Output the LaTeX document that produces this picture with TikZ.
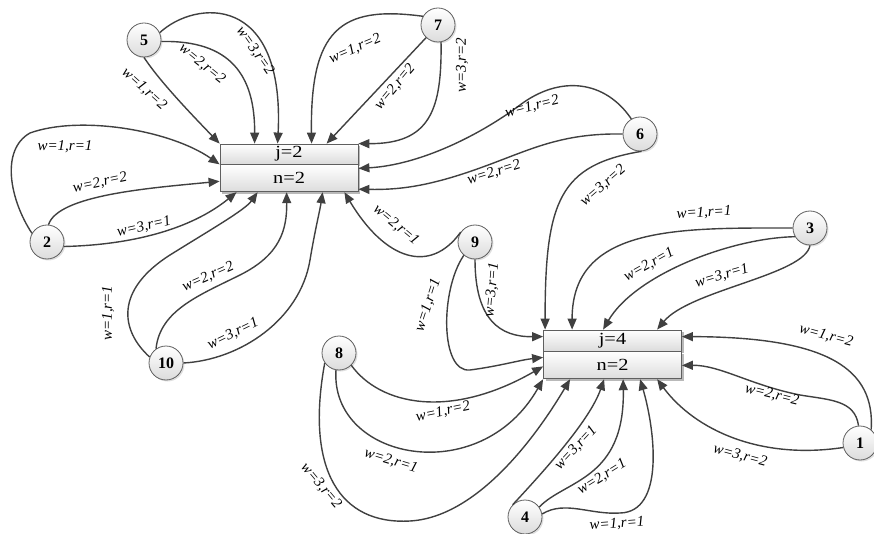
\documentclass[tikz,border=0pt]{standalone}
\usepackage{fontspec}
\setmainfont{Liberation Serif}
\newfontfamily\cellfont[FakeStretch=1.2]{Liberation Serif}
\usetikzlibrary{positioning,arrows.meta,shadows}
\definecolor{EdgeGray}{RGB}{64,64,64}
\definecolor{RimGray}{RGB}{95,95,95}
\definecolor{FillGray}{RGB}{220,220,220}
\tikzset{
	v/.style={circle,draw=RimGray,line width=0.8pt,top color=white,bottom color=FillGray,
		minimum size=34pt,inner sep=0pt,font=\fontsize{16}{19}\selectfont\bfseries,
		drop shadow={shadow xshift=1.5pt,shadow yshift=-1.5pt,opacity=0.25}},
	cell/.style={rectangle,draw=RimGray,line width=0.8pt,top color=white,bottom color=FillGray,
		minimum width=138pt,inner sep=0pt,font=\cellfont\fontsize{17}{20}\selectfont,
		drop shadow={shadow xshift=2pt,shadow yshift=-2pt,opacity=0.55}},
	edge/.style={draw=EdgeGray,line width=1.4pt,-{Triangle[length=11pt,width=9pt]}},
	wr/.style={font=\fontsize{15}{18}\selectfont\itshape,inner sep=0pt},
}
\begin{document}
\begin{tikzpicture}[x=1pt,y=-1pt]
	\useasboundingbox (0,0) rectangle (874,534);
	\node[cell,minimum height=20pt] (j2) at (289,154) {j=2};
	\node[cell,minimum height=27pt,below=0pt of j2] (nj2) {n=2};
	\node[cell,minimum height=21pt] (j4) at (612.5,340.5) {j=4};
	\node[cell,minimum height=27pt,below=0pt of j4] (nj4) {n=2};
	\node[v] (v1) at (860,443) {1};
	\node[v] (v2) at (47,242) {2};
	\node[v] (v3) at (810,228) {3};
	\node[v] (v4) at (525,517) {4};
	\node[v] (v5) at (144,40) {5};
	\node[v] (v6) at (640,134) {6};
	\node[v] (v7) at (438,25) {7};
	\node[v] (v8) at (339,353) {8};
	\node[v] (v9) at (475,242) {9};
	\node[v] (v10) at (166,363) {10};
	% into j=2
	\draw[edge] (v5.south) .. controls (160,82) and (195,118) .. (j2.north west);
	\draw[edge] (v5.-5) .. controls (230,40) and (255,75) .. ([xshift=35pt]j2.north west);
	\draw[edge] (v5.25) .. controls (195,0) and (285,-8) .. ([xshift=58pt]j2.north west);
	\draw[edge] (v7.150) .. controls (340,5) and (310,30) .. ([xshift=92pt]j2.north west);
	\draw[edge] (v7) -- ([xshift=107pt]j2.north west);
	\draw[edge] (v7.-80) .. controls (442,110) and (430,144) .. (j2.north east);
	\draw[edge] (v6.120) .. controls (605,80) and (560,75) .. (520,105) .. controls (480,135) and (420,165) .. ([yshift=-4pt]nj2.north east);
	\draw[edge] (v6.west) .. controls (560,133) and (530,150) .. (480,168) .. controls (430,186) and (400,190) .. ([yshift=3pt]nj2.south east);
	\draw[edge] (v9.145) .. controls (430,275) and (385,260) .. ([xshift=-14pt]nj2.south east);
	\draw[edge] (v2.150) .. controls (10,200) and (0,150) .. (30,133) .. controls (80,115) and (170,130) .. (j2.south west);
	\draw[edge] (v2.85) .. controls (58,195) and (150,188) .. ([yshift=-3pt]nj2.west);
	\draw[edge] (v2.-15) .. controls (130,245) and (190,230) .. ([xshift=17pt]nj2.south west);
	\draw[edge] (v10.160) .. controls (120,330) and (115,290) .. (170,255) .. controls (210,230) and (245,210) .. ([xshift=38pt]nj2.south west);
	\draw[edge] (v10.125) .. controls (160,310) and (200,295) .. (240,275) .. controls (280,255) and (287,230) .. ([xshift=67pt]nj2.south west);
	\draw[edge] (v10.east) .. controls (240,360) and (300,320) .. (310,260) .. controls (315,230) and (320,210) .. ([xshift=103pt]nj2.south west);
	% into j=4
	\draw[edge] (v6.-85) .. controls (560,165) and (545,200) .. ([xshift=2pt]j4.north west);
	\draw[edge] (v3.west) .. controls (680,228) and (572,225) .. ([xshift=29pt]j4.north west);
	\draw[edge] (v3.210) .. controls (730,238) and (635,275) .. ([xshift=60pt]j4.north west);
	\draw[edge] (v3.south) .. controls (805,275) and (690,290) .. ([xshift=114pt]j4.north west);
	\draw[edge] (v9.south) .. controls (475,320) and (500,337) .. ([yshift=-7pt]j4.north west);
	\draw[edge] (v9.230) .. controls (440,290) and (440,373) .. (470,370) .. controls (500,366) and (520,360) .. ([yshift=-6pt]nj4.north west);
	\draw[edge] (v8.-45) .. controls (380,405) and (450,420) .. ([yshift=-15pt]nj4.north west);
	\draw[edge] (v8.-100) .. controls (330,460) and (480,490) .. (nj4.south west);
	\draw[edge] (v8.215) .. controls (305,470) and (340,525) .. (410,521) .. controls (480,517) and (540,430) .. ([xshift=27pt]nj4.south west);
	\draw[edge] (v4.135) .. controls (545,470) and (590,420) .. ([xshift=61pt]nj4.south west);
	\draw[edge] (v4.35) .. controls (565,480) and (625,480) .. ([xshift=80pt]nj4.south west);
	\draw[edge] (v4.10) .. controls (565,500) and (590,515) .. (620,513) .. controls (665,512) and (655,430) .. ([xshift=97pt]nj4.south west);
	\draw[edge] (v1.195) .. controls (760,460) and (695,430) .. ([xshift=114pt]nj4.south west);
	\draw[edge] (v1.95) .. controls (855,400) and (830,400) .. (800,395) .. controls (750,385) and (720,365) .. ([yshift=-14pt]nj4.north east);
	\draw[edge] (v1.50) .. controls (875,370) and (830,337) .. ([yshift=-7pt]j4.north east);
	% weights
	\node[wr,rotate=-42] (lab5a) at (144,89) {w=1,r=2};
	\node[wr,rotate=-39] (lab5b) at (202,64) {w=2,r=2};
	\node[wr,rotate=-55] (lab5c) at (255,51) {w=3,r=2};
	\node[wr,rotate=23] (lab7a) at (355,49) {w=1,r=2};
	\node[wr,rotate=50] (lab7b) at (395,87) {w=2,r=2};
	\node[wr,rotate=90] (lab7c) at (462,65) {w=3,r=2};
	\node[wr,rotate=14] (lab6a) at (532,107) {w=1,r=2};
	\node[wr,rotate=17] (lab6b) at (494,173) {w=2,r=2};
	\node[wr,rotate=41] (lab6c) at (603,186) {w=3,r=2};
	\node[wr,rotate=-40] (lab9a) at (396,225) {w=2,r=1};
	\node[wr,rotate=72] (lab9b) at (428,305) {w=1,r=1};
	\node[wr,rotate=85] (lab9c) at (492,290) {w=3,r=1};
	\node[wr,rotate=3] (lab3a) at (704,213) {w=1,r=1};
	\node[wr,rotate=29] (lab3b) at (649,265) {w=2,r=1};
	\node[wr,rotate=16] (lab3c) at (722,276) {w=3,r=1};
	\node[wr,rotate=-15] (lab1a) at (826,336) {w=1,r=2};
	\node[wr,rotate=-14] (lab1b) at (772,395) {w=2,r=2};
	\node[wr,rotate=-15] (lab1c) at (740,456) {w=3,r=2};
	\node[wr,rotate=12] (lab8a) at (443,412) {w=1,r=2};
	\node[wr,rotate=-17] (lab8b) at (391,461) {w=2,r=1};
	\node[wr,rotate=-50] (lab8c) at (321,486) {w=3,r=2};
	\node[wr,rotate=47] (lab4a) at (576,448) {w=3,r=1};
	\node[wr,rotate=32] (lab4b) at (602,477) {w=2,r=1};
	\node[wr,rotate=4] (lab4c) at (617,524) {w=1,r=1};
	\node[wr] (lab2a) at (65,147) {w=1,r=1};
	\node[wr,rotate=12] (lab2b) at (100,183) {w=2,r=2};
	\node[wr,rotate=13] (lab2c) at (144,227) {w=3,r=1};
	\node[wr,rotate=90] (lab10a) at (108,313) {w=1,r=1};
	\node[wr,rotate=24] (lab10b) at (208,277) {w=2,r=2};
	\node[wr,rotate=26] (lab10c) at (233,334) {w=3,r=1};
\end{tikzpicture}
\end{document}
